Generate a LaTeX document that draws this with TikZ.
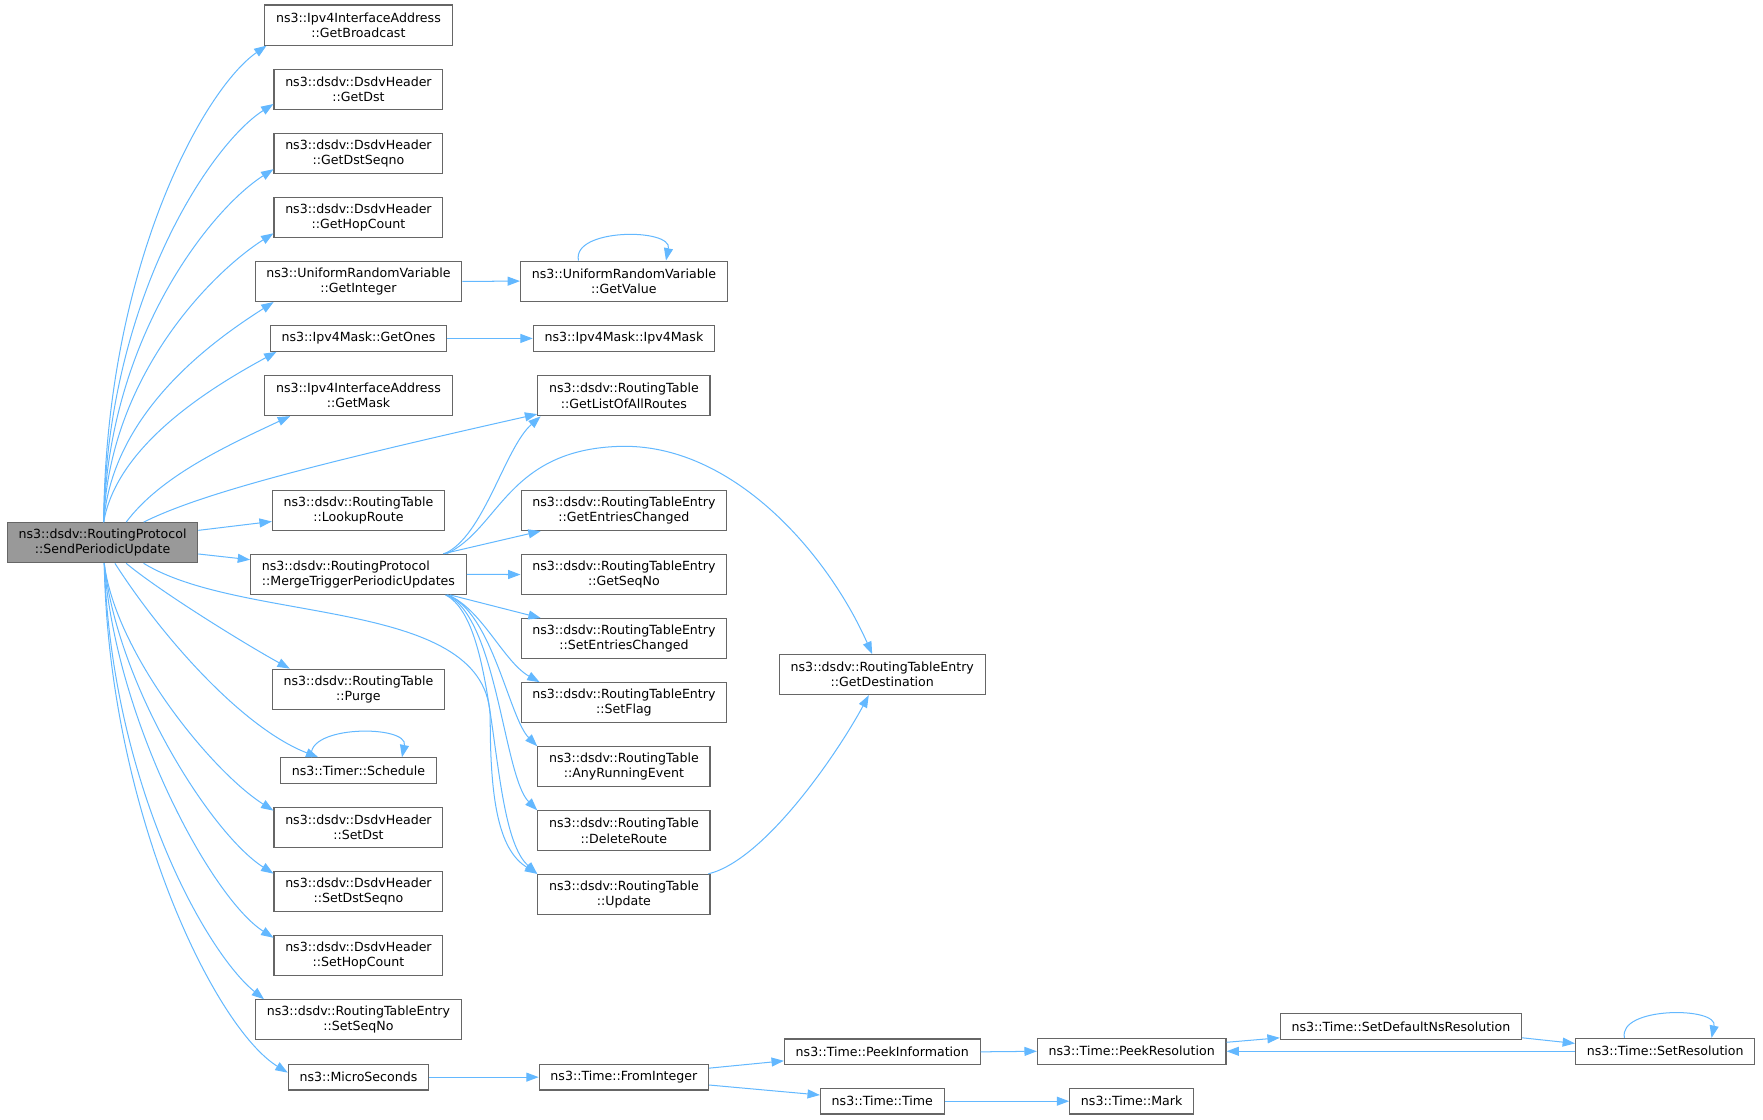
\documentclass[tikz,border=0pt]{standalone}
\usepackage{fontspec}
\setmainfont{DejaVu Sans}
\usepackage{tikz}
\usetikzlibrary{arrows.meta}
\definecolor{edgeBlue}{HTML}{63B8FF}
\definecolor{boxLine}{HTML}{666666}
\definecolor{rootFill}{HTML}{999999}
\newcommand{\fnFont}{\fontsize{11.2pt}{13.6pt}\selectfont}
\tikzstyle{fn}=[draw=boxLine, line width=1pt, fill=white, font=\fnFont, align=center, inner xsep=10pt, inner ysep=0pt, minimum height=35.6pt]
\tikzstyle{fnShort}=[fn, minimum height=22.8pt]
\tikzstyle{root}=[fn, fill=rootFill]
\tikzstyle{call}=[draw=edgeBlue, line width=0.9pt, -{Triangle[length=11pt,width=8pt]}]

\begin{document}
\begin{tikzpicture}[x=1pt, y=-1pt]
    \useasboundingbox (0,0) rectangle (1568,995.3);
    \node[root] (sendUpdate) at (91.2,482.7) {ns3::dsdv::RoutingProtocol\\::SendPeriodicUpdate};
    \node[fn] (getBroadcast) at (318.8,22.3) {ns3::Ipv4InterfaceAddress\\::GetBroadcast};
    \node[fn] (getDst) at (318.8,79.5) {ns3::dsdv::DsdvHeader\\::GetDst};
    \node[fn] (getDstSeqno) at (318.8,136.5) {ns3::dsdv::DsdvHeader\\::GetDstSeqno};
    \node[fn] (getHopCount) at (318.8,193.5) {ns3::dsdv::DsdvHeader\\::GetHopCount};
    \node[fn] (getInteger) at (318.8,250.3) {ns3::UniformRandomVariable\\::GetInteger};
    \node[fnShort] (getOnes) at (318.8,301) {ns3::Ipv4Mask::GetOnes};
    \node[fn] (getMask) at (318.8,351.8) {ns3::Ipv4InterfaceAddress\\::GetMask};
    \node[fn] (lookupRoute) at (318.8,453.8) {ns3::dsdv::RoutingTable\\::LookupRoute};
    \node[fn, align=left] (merge) at (318.8,510.8) {ns3::dsdv::RoutingProtocol\\::MergeTriggerPeriodicUpdates};
    \node[fn] (purge) at (318.8,613) {ns3::dsdv::RoutingTable\\::Purge};
    \node[fnShort] (schedule) at (318.8,685.4) {ns3::Timer::Schedule};
    \node[fn] (setDst) at (318.8,736) {ns3::dsdv::DsdvHeader\\::SetDst};
    \node[fn] (setDstSeqno) at (318.8,793) {ns3::dsdv::DsdvHeader\\::SetDstSeqno};
    \node[fn] (setHopCount) at (318.8,850) {ns3::dsdv::DsdvHeader\\::SetHopCount};
    \node[fn] (setSeqNo) at (318.8,907) {ns3::dsdv::RoutingTableEntry\\::SetSeqNo};
    \node[fnShort] (microSeconds) at (318.8,958) {ns3::MicroSeconds};
    \node[fn] (getValue) at (554.9,250) {ns3::UniformRandomVariable\\::GetValue};
    \node[fnShort] (ipv4Mask) at (554.9,301) {ns3::Ipv4Mask::Ipv4Mask};
    \node[fn] (getListOfAllRoutes) at (554.9,352) {ns3::dsdv::RoutingTable\\::GetListOfAllRoutes};
    \node[fn] (getEntriesChanged) at (554.9,454) {ns3::dsdv::RoutingTableEntry\\::GetEntriesChanged};
    \node[fn] (getSeqNo) at (554.9,511) {ns3::dsdv::RoutingTableEntry\\::GetSeqNo};
    \node[fn] (setEntriesChanged) at (554.9,568) {ns3::dsdv::RoutingTableEntry\\::SetEntriesChanged};
    \node[fn] (setFlag) at (554.9,625) {ns3::dsdv::RoutingTableEntry\\::SetFlag};
    \node[fn] (anyRunningEvent) at (554.9,682) {ns3::dsdv::RoutingTable\\::AnyRunningEvent};
    \node[fn] (deleteRoute) at (554.9,739) {ns3::dsdv::RoutingTable\\::DeleteRoute};
    \node[fn] (update) at (554.9,795.5) {ns3::dsdv::RoutingTable\\::Update};
    \node[fnShort] (fromInteger) at (554.9,958) {ns3::Time::FromInteger};
    \node[fn] (getDestination) at (784.7,600) {ns3::dsdv::RoutingTableEntry\\::GetDestination};
    \node[fnShort] (peekInformation) at (784.7,935.5) {ns3::Time::PeekInformation};
    \node[fnShort] (timeTime) at (784.7,979.4) {ns3::Time::Time};
    \node[fnShort] (peekResolution) at (1006.5,935) {ns3::Time::PeekResolution};
    \node[fnShort] (mark) at (1006.5,979.4) {ns3::Time::Mark};
    \node[fnShort] (setDefaultNsResolution) at (1246,913) {ns3::Time::SetDefaultNsResolution};
    \node[fnShort] (setResolution) at (1481,935) {ns3::Time::SetResolution};
    \coordinate (updateBend) at (436,640);
    \coordinate (destArc) at (551,397);

    \draw[call] ([xshift=1pt]sendUpdate.north) .. controls +(2,-230) and +(-55,38) .. ([xshift=2pt]getBroadcast.south west);
    \draw[call] ([xshift=1pt]sendUpdate.north) .. controls +(3,-200) and +(-55,35) .. ([yshift=-13pt]getDst.west);
    \draw[call] ([xshift=1pt]sendUpdate.north) .. controls +(4,-165) and +(-55,35) .. ([yshift=-14pt]getDstSeqno.west);
    \draw[call] ([xshift=1pt]sendUpdate.north) .. controls +(5,-130) and +(-55,35) .. ([yshift=-14pt]getHopCount.west);
    \draw[call] ([xshift=1pt]sendUpdate.north) .. controls +(8,-100) and +(-50,32) .. ([xshift=17pt]getInteger.south west);
    \draw[call] ([xshift=1pt]sendUpdate.north) .. controls +(12,-70) and +(-55,30) .. ([xshift=6pt]getOnes.south west);
    \draw[call] ([xshift=21pt]sendUpdate.north) .. controls +(30,-40) and +(-60,28) .. ([xshift=23pt]getMask.south west);
    \draw[call] ([xshift=36.5pt]sendUpdate.north) .. controls +(50,-25) and +(-200,45) .. ([yshift=2pt]getListOfAllRoutes.south west);
    \draw[call] ([yshift=11pt]sendUpdate.east) -- ([yshift=-10pt]lookupRoute.west);
    \draw[call] ([yshift=-10pt]sendUpdate.east) -- ([yshift=13pt]merge.west);
    \draw[call] ([xshift=36.5pt]sendUpdate.south) .. controls +(90,55) and +(0,-110) .. (updateBend) .. controls +(0,80) and +(-32,-20) .. (update.north west);
    \draw[call] ([xshift=21pt]sendUpdate.south) .. controls +(30,25) and +(-40,-22) .. ([xshift=16pt]purge.north west);
    \draw[call] ([xshift=11pt]sendUpdate.south) .. controls +(45,70) and +(-65,-25) .. ([xshift=34pt]schedule.north west);
    \draw[call] ([xshift=1.5pt]sendUpdate.south) .. controls +(10,80) and +(-55,-35) .. ([yshift=15pt]setDst.west);
    \draw[call] ([xshift=1.5pt]sendUpdate.south) .. controls +(12,110) and +(-55,-35) .. ([yshift=16pt]setDstSeqno.west);
    \draw[call] ([xshift=1.5pt]sendUpdate.south) .. controls +(10,140) and +(-55,-35) .. ([yshift=16pt]setHopCount.west);
    \draw[call] ([xshift=1.5pt]sendUpdate.south) .. controls +(7,200) and +(-50,-40) .. ([xshift=8pt]setSeqNo.north west);
    \draw[call] ([xshift=1.5pt]sendUpdate.south) .. controls +(4,220) and +(-65,-40) .. ([yshift=4pt]microSeconds.west);
    \draw[call] ([xshift=28pt]schedule.north west) .. controls +(-6,-29) and +(6,-29) .. ([xshift=-31pt]schedule.north east);

    \draw[call] (getInteger.east) -- (getValue.west);
    \draw[call] ([xshift=52pt]getValue.north west) .. controls +(-6,-29) and +(6,-29) .. ([xshift=-55pt]getValue.north east);
    \draw[call] (getOnes.east) -- (ipv4Mask.west);

    \draw[call] ([xshift=-20pt]merge.north east) .. controls +(35,-15) and +(-32,28) .. ([xshift=3pt]getListOfAllRoutes.south west);
    \draw[call] ([xshift=-18pt]merge.north east) .. controls +(47,-22) and +(-100,3) .. (destArc) .. controls +(100,-3) and +(-40,-90) .. ([xshift=-9pt]getDestination.north);
    \draw[call] ([xshift=-21pt]merge.north east) -- ([xshift=18pt]getEntriesChanged.south west);
    \draw[call] (merge.east) -- (getSeqNo.west);
    \draw[call] ([xshift=-15pt]merge.south east) -- ([xshift=18pt]setEntriesChanged.north west);
    \draw[call] ([xshift=-17pt]merge.south east) .. controls +(30,12) and +(-32,-18) .. ([xshift=17pt]setFlag.north west);
    \draw[call] ([xshift=-17.5pt]merge.south east) .. controls +(40,15) and +(-25,-25) .. (anyRunningEvent.north west);
    \draw[call] ([xshift=-18pt]merge.south east) .. controls +(45,20) and +(-30,-30) .. (deleteRoute.north west);
    \draw[call] ([xshift=-19pt]merge.south east) .. controls +(50,25) and +(-45,-40) .. (update.north west);
    \draw[call] ([xshift=-2pt]update.north east) .. controls +(50,-12) and +(-28,52) .. ([xshift=-12pt]getDestination.south);

    \draw[call] (microSeconds.east) -- (fromInteger.west);
    \draw[call] ([yshift=8pt]fromInteger.east) -- ([yshift=-8pt]peekInformation.west);
    \draw[call] ([yshift=-7pt]fromInteger.east) -- ([yshift=5.5pt]timeTime.west);
    \draw[call] (peekInformation.east) -- (peekResolution.west);
    \draw[call] (timeTime.east) -- (mark.west);
    \draw[call] ([yshift=8pt]peekResolution.east) -- ([yshift=-10pt]setDefaultNsResolution.west);
    \draw[call] ([yshift=-10pt]setDefaultNsResolution.east) -- ([yshift=7pt]setResolution.west);
    \draw[call] (setResolution.west) -- (peekResolution.east);
    \draw[call] ([xshift=44pt]setResolution.north west) .. controls +(-6,-28) and +(6,-28) .. ([xshift=-39pt]setResolution.north east);
\end{tikzpicture}
\end{document}
